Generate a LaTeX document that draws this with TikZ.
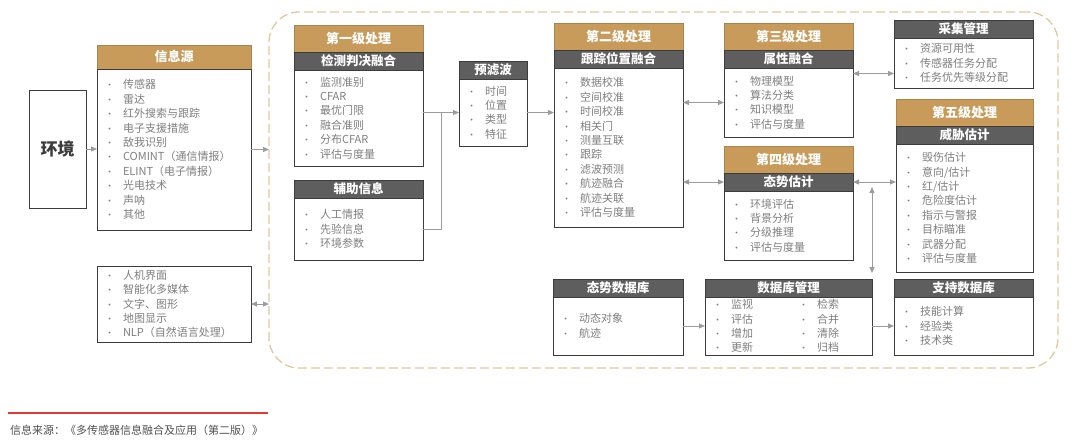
\documentclass[tikz,border=0pt]{standalone}
\usepackage{fontspec}
\setmainfont{Noto Sans CJK SC}
\usetikzlibrary{arrows.meta,positioning,calc}
\definecolor{gold}{HTML}{C89B5B}
\definecolor{hdgray}{HTML}{5E5E5E}
\definecolor{edge}{HTML}{3C3C3C}
\definecolor{itemgray}{HTML}{7F7F7F}
\definecolor{conngray}{HTML}{9C9C9C}
\definecolor{frametan}{HTML}{E3C79C}
\definecolor{srcred}{HTML}{E53935}
\newcommand{\bul}{\makebox[18pt][l]{\fontsize{9}{9}\selectfont\textcolor{itemgray}{•}}}

\begin{document}
\begin{tikzpicture}[x=1pt, y=-1pt, >={Triangle[length=6pt,width=5pt]},
	box/.style={draw=edge, line width=0.8pt, outer sep=0pt, inner sep=0pt},
	goldhd/.style={box, fill=gold, draw=gold!85!black, text=white, font=\fontsize{13}{16}\selectfont\bfseries, minimum height=27pt, minimum width=#1},
	darkhd/.style={box, fill=hdgray, text=white, font=\fontsize{12.5}{15}\selectfont\bfseries, minimum height=18pt, minimum width=#1},
	body/.style={box, fill=white, text=itemgray, font=\fontsize{11}{14.4}\selectfont, align=left, text width=#1, inner xsep=8pt, inner ysep=1pt},
	conn/.style={draw=conngray, line width=1pt},
	frame/.style={draw=frametan, line width=1.3pt, dash pattern=on 9pt off 4pt, rounded corners=30pt, inner sep=0pt, outer sep=0pt}]
	\useasboundingbox (0,0) rectangle (1080,442);

	\node[frame, minimum width=789pt, minimum height=356pt, anchor=north west] (frame) at (269,12) {};

	\node[box, minimum width=57pt, minimum height=118pt, anchor=north west, text=edge, font=\fontsize{17}{20}\selectfont\bfseries] (env) at (29,90) {环境};

	\node[goldhd=154pt, minimum height=24pt, anchor=north west] (src) at (97,45) {信息源};
	\node[body=138pt, minimum height=161pt, below=0pt of src] (srcb) {\bul 传感器\\ \bul 雷达\\ \bul 红外搜索与跟踪\\ \bul 电子支援措施\\ \bul 敌我识别\\ \bul COMINT（通信情报）\\ \bul ELINT（电子情报）\\ \bul 光电技术\\ \bul 声呐\\ \bul 其他};

	\node[body=138pt, minimum height=76pt, anchor=north west, inner ysep=3pt] (hmi) at (97,266) {\bul 人机界面\\ \bul 智能化多媒体\\ \bul 文字、图形\\ \bul 地图显示\\ \bul NLP（自然语言处理）};

	\node[goldhd=129pt, anchor=north west] (l1) at (294,25) {第一级处理};
	\node[darkhd=129pt, below=0pt of l1] (l1h) {检测判决融合};
	\node[body=113pt, minimum height=96pt, below=0pt of l1h] (l1b) {\bul 监测准别\\ \bul CFAR\\ \bul 最优门限\\ \bul 融合准则\\ \bul 分布CFAR\\ \bul 评估与度量};

	\node[darkhd=129pt, anchor=north west] (aux) at (294,180) {辅助信息};
	\node[body=113pt, minimum height=62pt, below=0pt of aux] (auxb) {\bul 人工情报\\ \bul 先验信息\\ \bul 环境参数};

	\node[darkhd=68pt, anchor=north west] (pre) at (459,61) {预滤波};
	\node[body=52pt, minimum height=67pt, below=0pt of pre] (preb) {\bul 时间\\ \bul 位置\\ \bul 类型\\ \bul 特征};

	\node[goldhd=129pt, anchor=north west] (l2) at (554,23) {第二级处理};
	\node[darkhd=129pt, below=0pt of l2] (l2h) {跟踪位置融合};
	\node[body=113pt, minimum height=159pt, below=0pt of l2h] (l2b) {\bul 数据校准\\ \bul 空间校准\\ \bul 时间校准\\ \bul 相关门\\ \bul 测量互联\\ \bul 跟踪\\ \bul 滤波预测\\ \bul 航迹融合\\ \bul 航迹关联\\ \bul 评估与度量};

	\node[goldhd=129pt, anchor=north west] (l3) at (724,23) {第三级处理};
	\node[darkhd=129pt, below=0pt of l3] (l3h) {属性融合};
	\node[body=113pt, minimum height=69pt, below=0pt of l3h] (l3b) {\bul 物理模型\\ \bul 算法分类\\ \bul 知识模型\\ \bul 评估与度量};

	\node[goldhd=129pt, anchor=north west] (l4) at (724,146) {第四级处理};
	\node[darkhd=129pt, below=0pt of l4] (l4h) {态势估计};
	\node[body=113pt, minimum height=69pt, below=0pt of l4h] (l4b) {\bul 环境评估\\ \bul 背景分析\\ \bul 分级推理\\ \bul 评估与度量};

	\node[darkhd=139pt, anchor=north west] (acq) at (894,20) {采集管理};
	\node[body=123pt, minimum height=50pt, below=0pt of acq] (acqb) {\bul 资源可用性\\ \bul 传感器任务分配\\ \bul 任务优先等级分配};

	\node[goldhd=137pt, anchor=north west] (l5) at (896,99) {第五级处理};
	\node[darkhd=137pt, below=0pt of l5] (l5h) {威胁估计};
	\node[body=121pt, minimum height=128pt, below=0pt of l5h] (l5b) {\bul 毁伤估计\\ \bul 意向/估计\\ \bul 红/估计\\ \bul 危险度估计\\ \bul 指示与警报\\ \bul 目标瞄准\\ \bul 武器分配\\ \bul 评估与度量};

	\node[darkhd=130pt, anchor=north west] (sdb) at (553,279) {态势数据库};
	\node[body=114pt, minimum height=58pt, below=0pt of sdb] (sdbb) {\bul 动态对象\\ \bul 航迹};

	\node[darkhd=167pt, anchor=north west] (dbm) at (705,279) {数据库管理};
	\node[body=151pt, minimum height=58pt, below=0pt of dbm, inner ysep=0pt] (dbmb) {\makebox[86pt][l]{\bul 监视}\bul 检索\\ \makebox[86pt][l]{\bul 评估}\bul 合并\\ \makebox[86pt][l]{\bul 增加}\bul 清除\\ \makebox[86pt][l]{\bul 更新}\bul 归档};

	\node[darkhd=139pt, anchor=north west] (spt) at (894,279) {支持数据库};
	\node[body=123pt, minimum height=58pt, below=0pt of spt] (sptb) {\bul 技能计算\\ \bul 经验类\\ \bul 技术类};

	\coordinate (jn) at ($(preb.west -| l1b.east)!0.5!(preb.west)$);
	\draw[conn,->] (env.east) -- (env.east -| srcb.west);
	\draw[conn,->] (srcb.east) -- (srcb.east -| frame.west);
	\draw[conn,<->] (hmi.east) -- (hmi.east -| frame.west);
	\draw[conn,->] (preb.west -| l1b.east) -- (preb.west);
	\draw[conn] (auxb.east) -| (jn);
	\draw[conn,->] (preb.east) -- (preb.east -| l2b.west);
	\draw[conn,<->] (l3b.west -| l2b.east) -- (l3b.west);
	\draw[conn,<->] (l4h.west -| l2b.east) -- (l4h.west);
	\draw[conn,<->] ([yshift=-10.5pt]acqb.west -| l3b.east) -- ([yshift=-10.5pt]acqb.west);
	\draw[conn,<->] (l4h.east) -- (l4h.east -| l5b.west);
	\draw[conn,<->, shorten <=6pt, shorten >=5pt] (dbm.north east) -- (dbm.north east |- l4h.east);
	\draw[conn,->] (sdbb.east) -- (sdbb.east -| dbmb.west);
	\draw[conn,->] (dbmb.east) -- (dbmb.east -| sptb.west);

	\draw[srcred, line width=1.2pt] (8,413) -- (268,413);
	\node[anchor=west, inner sep=0pt, text=edge!90, font=\fontsize{11}{13}\selectfont] (note) at (10,430) {信息来源：《多传感器信息融合及应用（第二版）》};
\end{tikzpicture}
\end{document}
